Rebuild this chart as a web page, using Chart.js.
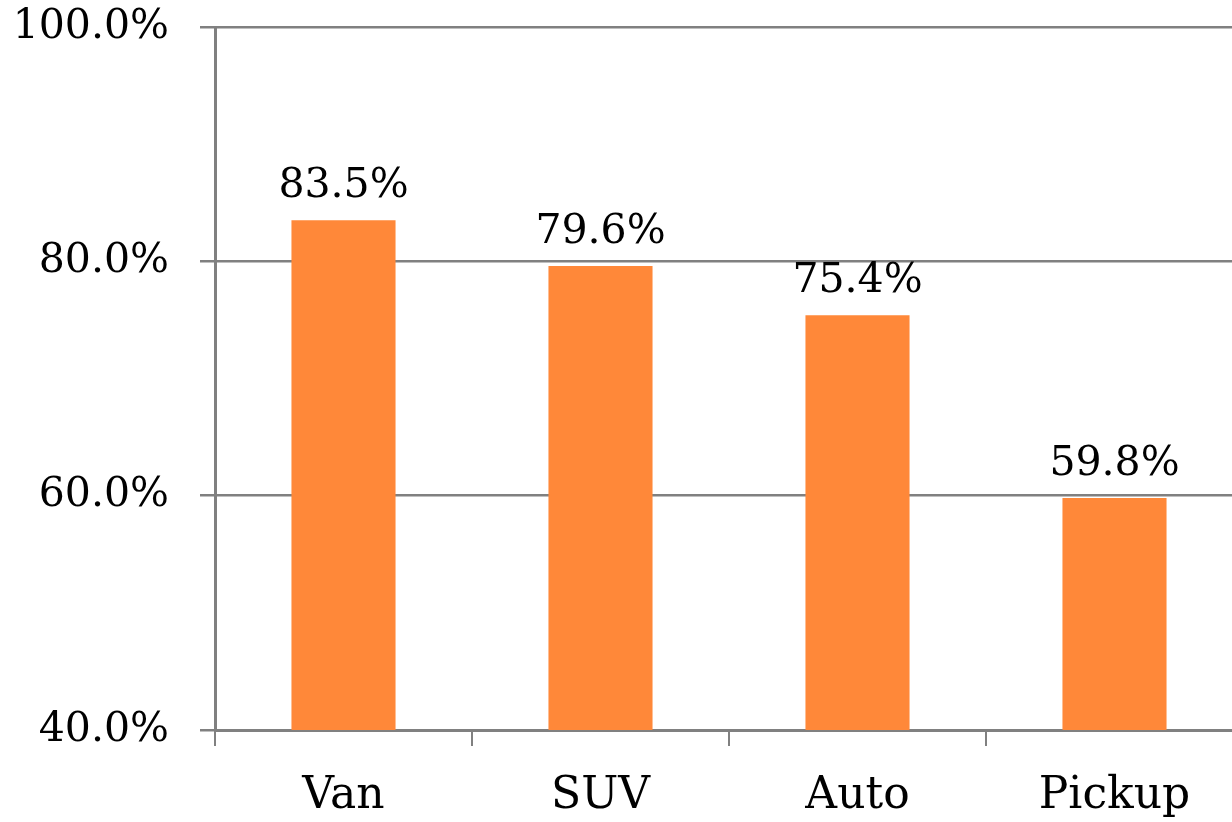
<!DOCTYPE html>
<html>
<head>
<meta charset="utf-8">
<script src="https://cdn.jsdelivr.net/npm/chart.js@4"></script>
<style>
  html, body { margin: 0; padding: 0; background: #fff; overflow: hidden; }
  #wrap { width: 1243px; height: 822px; }
</style>
</head>
<body>
<div id="wrap"><canvas id="vehicleChart"></canvas></div>
<script>
// values
const categories = ['Van', 'SUV', 'Auto', 'Pickup'];
const shares = [83.5, 79.6, 75.4, 59.8];
const yTicks = [40, 60, 80, 100];

const serif = 'DejaVu Serif';

// draws the value above each bar
const valueLabels = {
    id: 'valueLabels',
    afterDatasetsDraw(chart) {
        const c = chart.ctx;
        const meta = chart.getDatasetMeta(0);
        c.save();
        c.font = '41px "' + serif + '"';
        c.fillStyle = '#000';
        c.textAlign = 'center';
        c.textBaseline = 'alphabetic';
        meta.data.forEach(function (bar, i) {
            c.fillText(shares[i].toFixed(1) + '%', bar.x, bar.y - 23);
        });
        c.restore();
    }
};

const ctx = document.getElementById('vehicleChart').getContext('2d');

new Chart(ctx, {
    type: 'bar',
    data: {
        labels: categories,
        datasets: [{
            data: shares,
            backgroundColor: '#ff8839',
            barPercentage: 0.405,
            categoryPercentage: 1
        }]
    },
    options: {
        responsive: true,
        maintainAspectRatio: false,
        animation: false,
        layout: { padding: { left: 15, top: 27, right: 0, bottom: 0 } },
        plugins: {
            legend: { display: false },
            tooltip: { enabled: false }
        },
        scales: {
            x: {
                afterFit(axis) { axis.height = 92; },
                grid: {
                    drawOnChartArea: false,
                    drawTicks: true,
                    tickLength: 16,
                    color: '#808080',
                    lineWidth: 2
                },
                border: { color: '#808080', width: 3 },
                ticks: {
                    color: '#000',
                    padding: 24,
                    font: { family: serif, size: 44 }
                }
            },
            y: {
                min: 40,
                max: 100,
                afterFit(axis) {
                    axis.width = 200;
                    axis.paddingTop = 0;
                    axis.paddingBottom = 0;
                },
                afterBuildTicks(axis) {
                    axis.ticks = yTicks.map(function (v) { return { value: v }; });
                },
                grid: {
                    color: '#808080',
                    lineWidth: 2.5,
                    tickLength: 15
                },
                border: { color: '#808080', width: 3 },
                ticks: {
                    color: '#000',
                    padding: 31,
                    font: { family: serif, size: 41 },
                    callback: function (v) { return v.toFixed(1) + '%'; }
                }
            }
        }
    },
    plugins: [valueLabels]
});
</script>
</body>
</html>
